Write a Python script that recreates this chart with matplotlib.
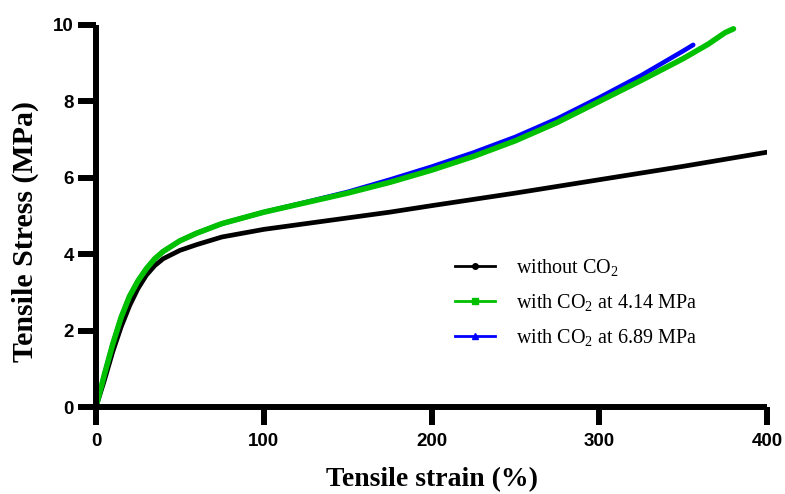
import matplotlib
matplotlib.use("Agg")
import matplotlib.pyplot as plt
from matplotlib.lines import Line2D

plt.rcParams["mathtext.fontset"] = "custom"
plt.rcParams["mathtext.rm"] = "Liberation Serif"
plt.rcParams["mathtext.it"] = "Liberation Serif:italic"
plt.rcParams["mathtext.bf"] = "Liberation Serif:bold"

# strain (%) / stress (MPa)
strain_none = [0, 5, 10, 15, 20, 25, 30, 35, 40, 50, 60, 75, 100, 125, 150, 175, 200, 250, 300, 350, 400]
stress_none = [0, 0.7, 1.45, 2.1, 2.65, 3.1, 3.45, 3.7, 3.88, 4.1, 4.25, 4.45, 4.65, 4.8, 4.95, 5.1, 5.27, 5.6, 5.95, 6.3, 6.67]

strain_414 = [0, 5, 10, 15, 20, 25, 30, 35, 40, 50, 60, 75, 100, 125, 150, 175, 200, 225, 250, 275, 300, 325, 350, 365, 375, 380]
stress_414 = [0, 0.85, 1.65, 2.35, 2.9, 3.3, 3.62, 3.88, 4.07, 4.35, 4.55, 4.8, 5.1, 5.35, 5.6, 5.88, 6.2, 6.56, 6.97, 7.45, 8.0, 8.55, 9.12, 9.5, 9.8, 9.9]

strain_689 = [0, 5, 10, 15, 20, 25, 30, 35, 40, 50, 60, 75, 100, 125, 150, 175, 200, 225, 250, 275, 300, 325, 350, 356]
stress_689 = [0, 0.85, 1.65, 2.35, 2.9, 3.3, 3.62, 3.88, 4.07, 4.35, 4.55, 4.8, 5.1, 5.36, 5.63, 5.95, 6.29, 6.66, 7.07, 7.55, 8.1, 8.68, 9.32, 9.48]

labels = [r"without CO$_\mathrm{2}$", r"with CO$_\mathrm{2}$ at 4.14 MPa", r"with CO$_\mathrm{2}$ at 6.89 MPa"]
x_ticks = [0, 100, 200, 300, 400]
y_ticks = [0, 2, 4, 6, 8, 10]

black = "#000000"
green = "#00c000"
blue = "#0000ff"

fig = plt.figure(figsize=(7.85, 4.94), dpi=100)
ax = fig.add_axes([0.1223, 0.1761, 0.8548, 0.7733])

ax.plot(strain_none, stress_none, color=black, lw=3.4, solid_capstyle="round")
ax.plot(strain_689, stress_689, color=blue, lw=3.3, solid_capstyle="round")
ax.plot(strain_414, stress_414, color=green, lw=4.0, solid_capstyle="round")

ax.set_xlim(0, 400)
ax.set_ylim(0, 10)
ax.set_xticks(x_ticks)
ax.set_yticks(y_ticks)

for s in ["top", "right"]:
    ax.spines[s].set_visible(False)
for s in ["left", "bottom"]:
    ax.spines[s].set_linewidth(4.3)
    ax.spines[s].set_capstyle("butt")
ax.tick_params(width=4.3, length=13)
ax.tick_params(axis="x", pad=6)
ax.tick_params(axis="y", pad=3)
for lab in ax.get_xticklabels() + ax.get_yticklabels():
    lab.set_fontfamily("Liberation Sans")
    lab.set_fontweight("bold")
    lab.set_fontsize(13.5)

ax.set_xlabel("Tensile strain (%)", family="Liberation Serif", fontweight="bold", fontsize=20, labelpad=12)
ax.set_ylabel("Tensile Stress (MPa)", family="Liberation Serif", fontweight="bold", fontsize=21.5)
ax.yaxis.set_label_coords(-0.085, 0.46)

handles = [
    Line2D([], [], color=black, lw=2, marker="o", ms=4),
    Line2D([], [], color=green, lw=2, marker="s", ms=4),
    Line2D([], [], color=blue, lw=2, marker="^", ms=4),
]
ax.legend(handles, labels, loc="upper left", bbox_to_anchor=(0.52, 0.42), frameon=False,
          prop={"family": "Liberation Serif", "size": 14.5}, handlelength=2.0, handletextpad=1.05,
          labelspacing=0.7, borderpad=0)

fig.savefig("out.png", dpi=100)
